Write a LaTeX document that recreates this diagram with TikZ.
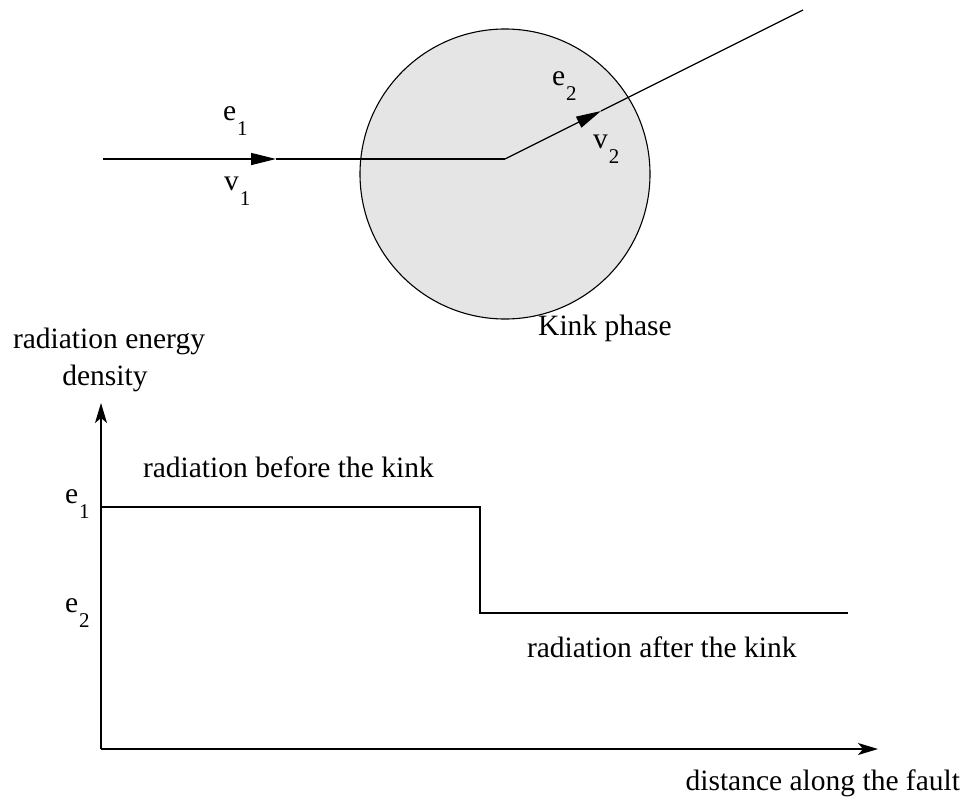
\documentclass[tikz,border=0pt]{standalone}
\usepackage{fontspec}
\setmainfont{Liberation Serif}
\usetikzlibrary{arrows.meta}
\newcommand\mysub[2]{#1\hspace{1pt}\raisebox{-15pt}{\fontsize{21}{24}\selectfont #2}}
\begin{document}
\begin{tikzpicture}[x=1pt,y=-1pt,
  line width=1.3pt,
  lbl/.style={font=\fontsize{29.5}{34}\selectfont, inner sep=0pt, outer sep=0pt},
  sublbl/.style={lbl, anchor=base west},
  midarrow/.style={-{Triangle[length=25pt,width=12pt]}},
  axisarrow/.style={-{Stealth[length=20pt,width=12pt,inset=5pt]}}]
\useasboundingbox (0,0) rectangle (965,798);
% top diagram
\node[circle, draw, line width=1.1pt, fill=black!10, minimum size=290pt, inner sep=0pt] (phase) at (505,174) {};
\coordinate (start) at (103,159);
\coordinate (tip1) at (276,159);
\coordinate (kink) at (505,159);
\coordinate (tip2) at (601,111);
\coordinate (end) at (803,10);
\draw[midarrow] (start) -- (tip1);
\draw (tip1) -- (kink);
\draw[midarrow] (kink) -- (tip2);
\draw (tip2) -- (end);
\node[sublbl] (e1) at (223,120) {\mysub{e}{1}};
\node[sublbl] (v1) at (224,190) {\mysub{v}{1}};
\node[sublbl] (e2) at (552,85) {\mysub{e}{2}};
\node[sublbl] (v2) at (593,148) {\mysub{v}{2}};
\node[lbl, anchor=base] (kinklbl) at (605,335) {Kink phase};
% graph
\coordinate (origin) at (101,749);
\coordinate (ytip) at (101,403);
\coordinate (xtip) at (878,749);
\draw[axisarrow] (origin) -- (ytip);
\draw[axisarrow] (origin) -- (xtip);
\coordinate (a) at (101,507);
\coordinate (b) at (480,507);
\coordinate (c) at (480,613);
\coordinate (d) at (848,613);
\draw (a) -- (b) -- (c) -- (d);
\node[lbl, anchor=base] (ylbl1) at (109,348) {radiation energy};
\node[lbl, anchor=base] (ylbl2) at (105,385) {density};
\node[sublbl] (le1) at (65,503) {\mysub{e}{1}};
\node[sublbl] (le2) at (65,612) {\mysub{e}{2}};
\node[lbl, anchor=base west] (before) at (143,477) {radiation before the kink};
\node[lbl, anchor=base west] (after) at (527,657) {radiation after the kink};
\node[lbl, anchor=base east] (xlbl) at (960,790) {distance along the fault};
\end{tikzpicture}
\end{document}
